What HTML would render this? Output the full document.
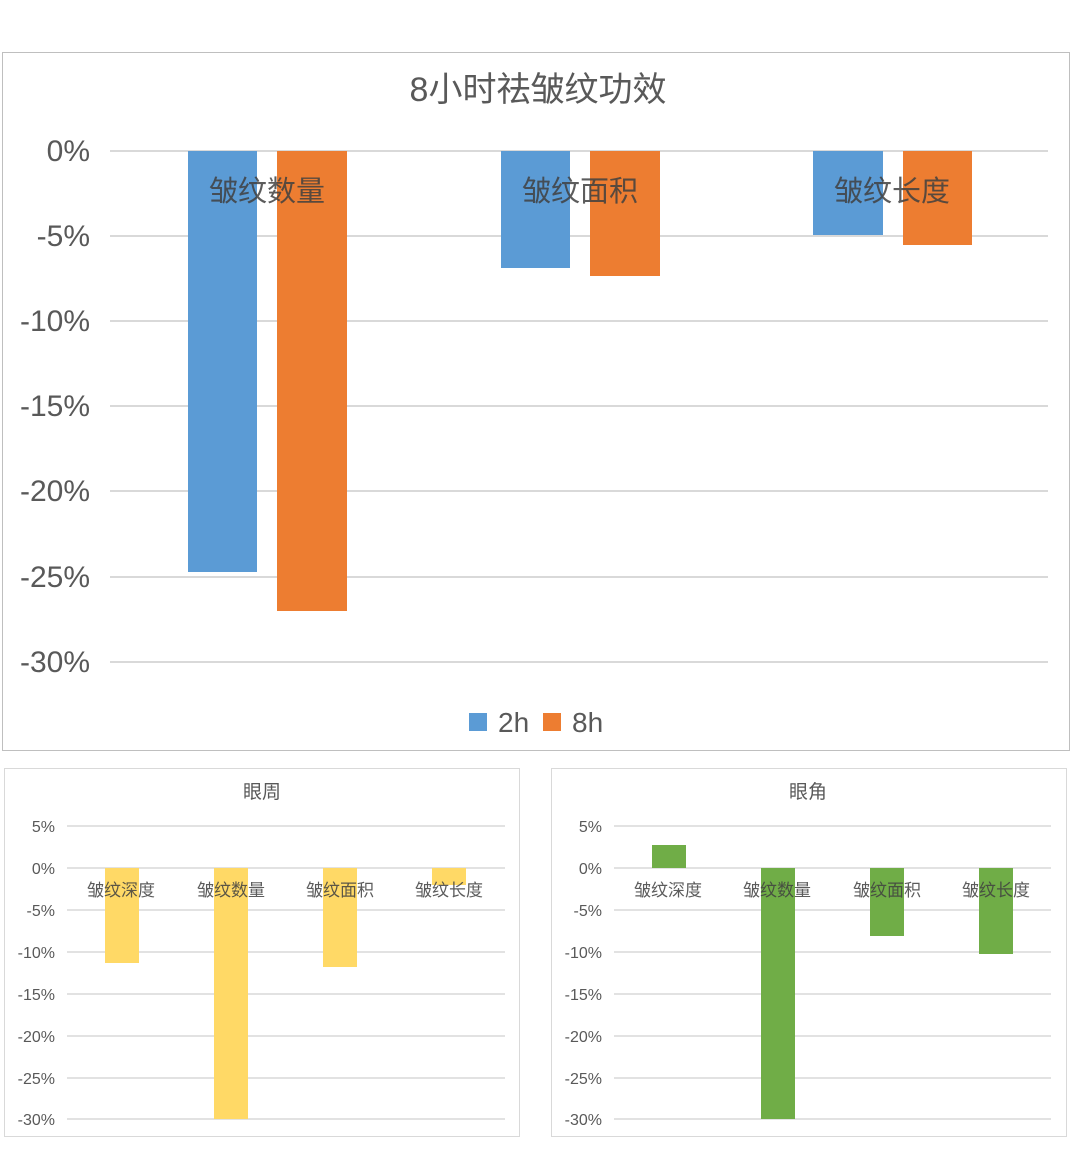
<!DOCTYPE html>
<html><head><meta charset="utf-8"><style>
html,body{margin:0;padding:0;background:#fff;width:1080px;height:1160px;overflow:hidden}
svg{display:block}
text{font-family:"Liberation Sans","Noto Sans CJK SC",sans-serif}
</style></head><body>
<svg width="1080" height="1160" viewBox="0 0 1080 1160" xmlns="http://www.w3.org/2000/svg">
<rect x="0" y="0" width="1080" height="1160" fill="#fff"/>
<rect x="2.5" y="52.5" width="1067" height="698" fill="#fff" stroke="#bfbfbf" stroke-width="1"/>
<text x="538" y="101" font-size="34" fill="#595959" text-anchor="middle">8小时祛皱纹功效</text>
<g stroke="#d9d9d9" stroke-width="2">
<line x1="110" x2="1048" y1="151" y2="151"/><line x1="110" x2="1048" y1="236" y2="236"/>
<line x1="110" x2="1048" y1="321" y2="321"/><line x1="110" x2="1048" y1="406" y2="406"/>
<line x1="110" x2="1048" y1="491" y2="491"/><line x1="110" x2="1048" y1="577" y2="577"/>
<line x1="110" x2="1048" y1="662" y2="662"/></g>
<g font-size="30" fill="#595959" text-anchor="end">
<text x="90" y="161">0%</text><text x="90" y="246">-5%</text><text x="90" y="331">-10%</text>
<text x="90" y="416">-15%</text><text x="90" y="501">-20%</text><text x="90" y="587">-25%</text><text x="90" y="672">-30%</text></g>
<g fill="#5b9bd5"><rect x="188" y="151" width="69" height="421"/><rect x="501" y="151" width="69" height="117"/><rect x="813" y="151" width="70" height="84"/></g>
<g fill="#ed7d31"><rect x="277" y="151" width="70" height="460"/><rect x="590" y="151" width="70" height="125"/><rect x="903" y="151" width="69" height="94"/></g>
<g font-size="29" fill="#404040" text-anchor="middle" opacity="0.85">
<text x="267" y="201">皱纹数量</text><text x="580" y="201">皱纹面积</text><text x="892" y="201">皱纹长度</text></g>
<rect x="469" y="713" width="18" height="18" fill="#5b9bd5"/>
<text x="498" y="732" font-size="28" fill="#595959">2h</text>
<rect x="543" y="713" width="18" height="18" fill="#ed7d31"/>
<text x="572" y="732" font-size="28" fill="#595959">8h</text>

<rect x="4.5" y="768.5" width="515" height="368" fill="#fff" stroke="#d9d9d9"/>
<text x="262" y="798" font-size="19" fill="#595959" text-anchor="middle">眼周</text>
<g stroke="#d9d9d9" stroke-width="1.5">
<line x1="67" x2="505" y1="826" y2="826"/><line x1="67" x2="505" y1="868" y2="868"/><line x1="67" x2="505" y1="910" y2="910"/>
<line x1="67" x2="505" y1="952" y2="952"/><line x1="67" x2="505" y1="994" y2="994"/><line x1="67" x2="505" y1="1036" y2="1036"/>
<line x1="67" x2="505" y1="1078" y2="1078"/><line x1="67" x2="505" y1="1119" y2="1119"/></g>
<g font-size="16" fill="#595959" text-anchor="end">
<text x="55" y="832">5%</text><text x="55" y="874">0%</text><text x="55" y="916">-5%</text><text x="55" y="958">-10%</text>
<text x="55" y="1000">-15%</text><text x="55" y="1042">-20%</text><text x="55" y="1084">-25%</text><text x="55" y="1125">-30%</text></g>
<g fill="#ffd966"><rect x="105" y="868" width="34" height="95"/><rect x="214" y="868" width="34" height="251"/><rect x="323" y="868" width="34" height="99"/><rect x="432" y="868" width="34" height="17"/></g>
<g font-size="17" fill="#404040" text-anchor="middle" opacity="0.85">
<text x="121" y="896">皱纹深度</text><text x="231" y="896">皱纹数量</text><text x="340" y="896">皱纹面积</text><text x="449" y="896">皱纹长度</text></g>

<rect x="551.5" y="768.5" width="515" height="368" fill="#fff" stroke="#d9d9d9"/>
<text x="808" y="798" font-size="19" fill="#595959" text-anchor="middle">眼角</text>
<g stroke="#d9d9d9" stroke-width="1.5">
<line x1="614" x2="1051" y1="826" y2="826"/><line x1="614" x2="1051" y1="868" y2="868"/><line x1="614" x2="1051" y1="910" y2="910"/>
<line x1="614" x2="1051" y1="952" y2="952"/><line x1="614" x2="1051" y1="994" y2="994"/><line x1="614" x2="1051" y1="1036" y2="1036"/>
<line x1="614" x2="1051" y1="1078" y2="1078"/><line x1="614" x2="1051" y1="1119" y2="1119"/></g>
<g font-size="16" fill="#595959" text-anchor="end">
<text x="602" y="832">5%</text><text x="602" y="874">0%</text><text x="602" y="916">-5%</text><text x="602" y="958">-10%</text>
<text x="602" y="1000">-15%</text><text x="602" y="1042">-20%</text><text x="602" y="1084">-25%</text><text x="602" y="1125">-30%</text></g>
<g fill="#70ad47"><rect x="652" y="845" width="34" height="23"/><rect x="761" y="868" width="34" height="251"/><rect x="870" y="868" width="34" height="68"/><rect x="979" y="868" width="34" height="86"/></g>
<g font-size="17" fill="#404040" text-anchor="middle" opacity="0.85">
<text x="668" y="896">皱纹深度</text><text x="777" y="896">皱纹数量</text><text x="887" y="896">皱纹面积</text><text x="996" y="896">皱纹长度</text></g>
</svg>
</body></html>
